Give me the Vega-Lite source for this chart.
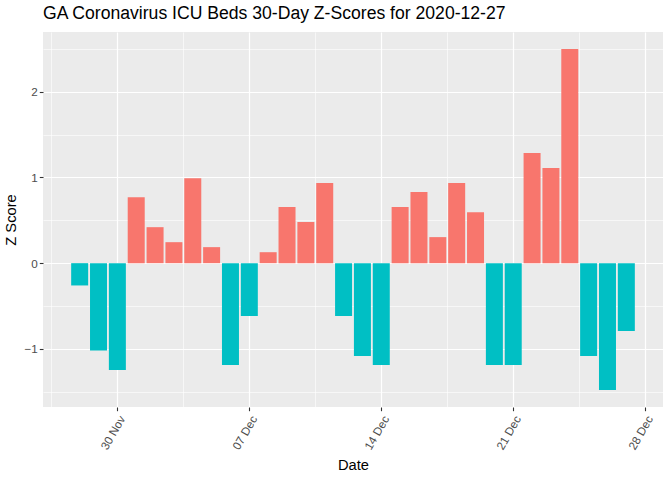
{
  "$schema": "https://vega.github.io/schema/vega-lite/v6.json",
  "width": 620,
  "height": 375,
  "autosize": "none",
  "padding": {"left": 43, "top": 32, "right": 9, "bottom": 73},
  "background": "white",
  "title": {
    "text": "GA Coronavirus ICU Beds 30-Day Z-Scores for 2020-12-27",
    "anchor": "start",
    "frame": "group",
    "font": "Liberation Sans, Arial, sans-serif",
    "fontSize": 17.6,
    "fontWeight": "normal",
    "color": "#000000",
    "offset": 9
  },
  "config": {
    "view": {"fill": "#EBEBEB", "stroke": null},
    "font": "Liberation Sans, Arial, sans-serif"
  },
  "data": {
    "values": [
      {"date": "2020-11-28", "z": -0.26},
      {"date": "2020-11-29", "z": -1.02},
      {"date": "2020-11-30", "z": -1.245},
      {"date": "2020-12-01", "z": 0.77},
      {"date": "2020-12-02", "z": 0.42},
      {"date": "2020-12-03", "z": 0.245},
      {"date": "2020-12-04", "z": 0.992},
      {"date": "2020-12-05", "z": 0.187},
      {"date": "2020-12-06", "z": -1.187},
      {"date": "2020-12-07", "z": -0.615},
      {"date": "2020-12-08", "z": 0.128},
      {"date": "2020-12-09", "z": 0.654},
      {"date": "2020-12-10", "z": 0.479},
      {"date": "2020-12-11", "z": 0.934},
      {"date": "2020-12-12", "z": -0.615},
      {"date": "2020-12-13", "z": -1.082},
      {"date": "2020-12-14", "z": -1.187},
      {"date": "2020-12-15", "z": 0.654},
      {"date": "2020-12-16", "z": 0.829},
      {"date": "2020-12-17", "z": 0.304},
      {"date": "2020-12-18", "z": 0.934},
      {"date": "2020-12-19", "z": 0.595},
      {"date": "2020-12-20", "z": -1.187},
      {"date": "2020-12-21", "z": -1.187},
      {"date": "2020-12-22", "z": 1.284},
      {"date": "2020-12-23", "z": 1.109},
      {"date": "2020-12-24", "z": 2.498},
      {"date": "2020-12-25", "z": -1.082},
      {"date": "2020-12-26", "z": -1.479},
      {"date": "2020-12-27", "z": -0.79}
    ]
  },
  "mark": {"type": "bar", "width": 17},
  "encoding": {
    "x": {
      "field": "date",
      "type": "temporal",
      "title": "Date",
      "scale": {
        "type": "utc",
        "nice": false,
        "padding": 0,
        "domain": [
          {"year": 2020, "month": 11, "date": 26, "hours": 1, "minutes": 19, "utc": true},
          {"year": 2020, "month": 12, "date": 28, "hours": 22, "minutes": 41, "utc": true}
        ]
      },
      "axis": {
        "values": [
          {"year": 2020, "month": 11, "date": 26, "hours": 12, "utc": true},
          {"year": 2020, "month": 11, "date": 30, "utc": true},
          {"year": 2020, "month": 12, "date": 3, "hours": 12, "utc": true},
          {"year": 2020, "month": 12, "date": 7, "utc": true},
          {"year": 2020, "month": 12, "date": 10, "hours": 12, "utc": true},
          {"year": 2020, "month": 12, "date": 14, "utc": true},
          {"year": 2020, "month": 12, "date": 17, "hours": 12, "utc": true},
          {"year": 2020, "month": 12, "date": 21, "utc": true},
          {"year": 2020, "month": 12, "date": 24, "hours": 12, "utc": true},
          {"year": 2020, "month": 12, "date": 28, "utc": true}
        ],
        "labelExpr": "utchours(datum.value) == 12 ? '' : utcFormat(datum.value, '%d %b')",
        "labelAngle": -60,
        "labelAlign": "right",
        "labelBaseline": "top",
        "labelPadding": 3,
        "labelFlush": false,
        "labelOverlap": false,
        "labelFontSize": 11.7,
        "labelColor": "#4D4D4D",
        "domain": false,
        "grid": true,
        "gridColor": "#FFFFFF",
        "gridWidth": {"condition": {"test": "utchours(datum.value) == 12", "value": 0.6}, "value": 1.2},
        "ticks": true,
        "tickSize": 3.7,
        "tickColor": "#333333",
        "tickWidth": 1.1,
        "tickOpacity": {"condition": {"test": "utchours(datum.value) == 12", "value": 0}, "value": 1},
        "titleFontSize": 14.7,
        "titleFontWeight": "normal",
        "titleColor": "#000000",
        "titlePadding": 6
      }
    },
    "y": {
      "field": "z",
      "type": "quantitative",
      "title": "Z Score",
      "scale": {"domain": [-1.678, 2.697], "nice": false, "zero": false, "padding": 0},
      "axis": {
        "values": [-1.5, -1, -0.5, 0, 0.5, 1, 1.5, 2, 2.5],
        "labelExpr": "datum.value % 1 != 0 ? '' : format(datum.value, 'd')",
        "labelFontSize": 11.7,
        "labelColor": "#4D4D4D",
        "labelPadding": 2,
        "domain": false,
        "grid": true,
        "gridColor": "#FFFFFF",
        "gridWidth": {"condition": {"test": "datum.value % 1 != 0", "value": 0.6}, "value": 1.2},
        "tickSize": 3.7,
        "tickColor": "#333333",
        "tickWidth": 1.1,
        "tickOpacity": {"condition": {"test": "datum.value % 1 != 0", "value": 0}, "value": 1},
        "titleFontSize": 14.7,
        "titleFontWeight": "normal",
        "titleColor": "#000000",
        "titlePadding": 5
      }
    },
    "color": {
      "condition": {"test": "datum.z > 0", "value": "#F8766D"},
      "value": "#00BFC4"
    }
  }
}
